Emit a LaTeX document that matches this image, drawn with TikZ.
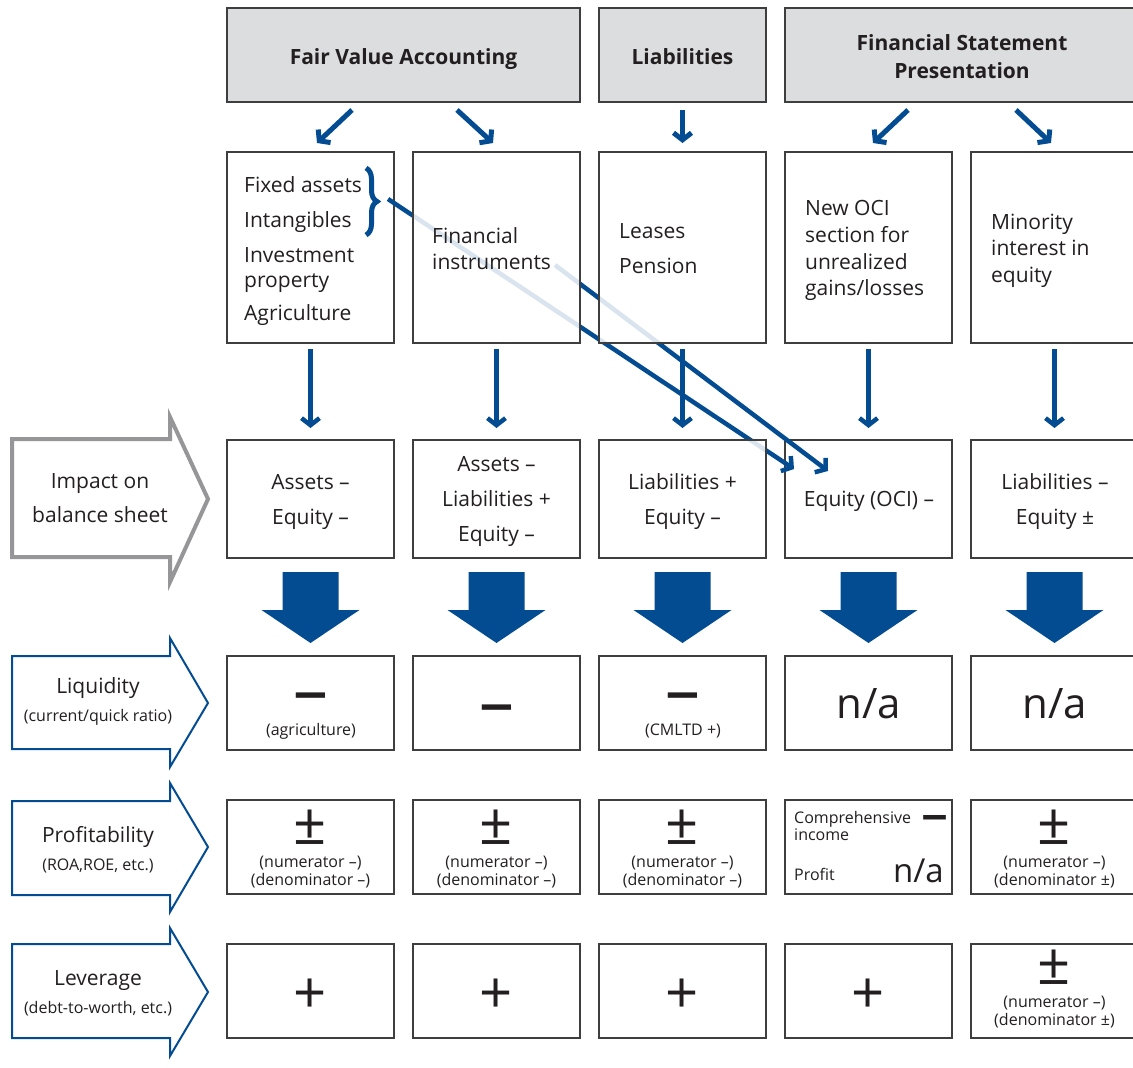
\documentclass[tikz,border=0pt]{standalone}
\usepackage{fontspec}
\usepackage{graphicx}
\setmainfont{Open Sans}
\usetikzlibrary{arrows.meta,decorations.pathreplacing}
\definecolor{fvblue}{RGB}{4,76,146}
\definecolor{hdrgray}{RGB}{220,221,223}
\definecolor{bordergray}{RGB}{62,62,62}
\definecolor{arrgray}{RGB}{150,150,152}
\definecolor{txt}{RGB}{35,31,32}
\newcommand\fsz[1]{\fontsize{#1}{#1}\selectfont}
\newcommand\wdash[1]{\scalebox{#1}[1]{–}}
\begin{document}
\begin{tikzpicture}[x=1pt,y=-1pt,
  box/.style={draw=bordergray, line width=1.3pt, fill=white, inner sep=0pt, outer sep=0pt, minimum width=167pt},
  fadebox/.style={draw=bordergray, line width=1.3pt, fill=white, fill opacity=0.85, inner sep=0pt, outer sep=0pt, minimum width=167pt},
  hdr/.style={box, fill=hdrgray},
  lbl/.style={inner sep=0pt, text=txt, font=\fsz{21}},
  sml/.style={inner sep=0pt, text=txt, font=\fsz{16}},
  hdrlbl/.style={inner sep=0pt, text=txt, font=\fsz{21}\bfseries},
  sym/.style={inner sep=0pt, text=txt, font=\fsz{58}},
  dsh/.style={inner sep=0pt, text=txt, font=\fsz{48}\bfseries, anchor=base},
  na/.style={inner sep=0pt, text=txt, font=\fsz{42}},
  arr/.style={draw=fvblue, line width=5pt, -{Straight Barb[length=7pt,width=18pt]}},
  diag/.style={draw=fvblue, line width=4.5pt, -{Straight Barb[length=7pt,width=18pt]}},
  bigarr/.style={fill=fvblue},
  sidearr/.style={draw=fvblue, line width=2pt, fill=white},
  sidearrgray/.style={draw=arrgray, line width=4pt, fill=white}
]
\path[use as bounding box] (0,0) rectangle (1133,1068);
\clip (0,0) rectangle (1133,1068);

% header boxes
\node[hdr, minimum width=353pt, minimum height=94pt] (hFVA) at (403.5,55) {};
\node[hdr, minimum height=94pt] (hLiab) at (682.5,55) {};
\node[hdr, minimum width=355pt, minimum height=94pt] (hFSP) at (962.5,55) {};
\node[hdrlbl, anchor=base] (tFVA) at (403.5,64) {Fair Value Accounting};
\node[hdrlbl, anchor=base] (tLiab) at (682.5,64) {Liabilities};
\node[hdrlbl, anchor=base] (tFSP1) at (962,50) {Financial Statement};
\node[hdrlbl, anchor=base] (tFSP2) at (962,78) {Presentation};

% row 2 boxes (not faded)
\node[box, minimum height=191pt] (b21) at (310.5,247.5) {};
\node[box, minimum height=191pt] (b24) at (868.5,247.5) {};
\node[box, minimum height=191pt] (b25) at (1054.5,247.5) {};
% row 3 boxes (not faded)
\node[box, minimum height=118pt] (b31) at (310.5,499) {};
\node[box, minimum height=118pt] (b34) at (868.5,499) {};
\node[box, minimum height=118pt] (b35) at (1054.5,499) {};

% brace
\draw[fvblue, line width=5pt, decorate, decoration={brace, amplitude=11pt}] (366,168) coordinate (brs) -- (366,235) coordinate (bre);
\coordinate (d1s) at (388,199);
\coordinate (d1e) at (794,469);
\coordinate (d2s) at (555,265);
\coordinate (d2e) at (828,471);
\draw[diag] (d1s) -- (d1e);
\draw[diag] (d2s) -- (d2e);

% faded boxes over the diagonal lines
\node[fadebox, minimum height=191pt] (b22) at (496.5,247.5) {};
\node[fadebox, minimum height=191pt] (b23) at (682.5,247.5) {};
\node[box, minimum height=118pt] (b32) at (496.5,499) {};
\node[fadebox, minimum height=118pt] (b33) at (682.5,499) {};

% header arrows
\coordinate (a1s) at (352,110); \coordinate (a1e) at (317,143);
\coordinate (a2s) at (457,110); \coordinate (a2e) at (493,143);
\coordinate (a3s) at (682.5,110); \coordinate (a3e) at (682.5,143);
\coordinate (a4s) at (908,110); \coordinate (a4e) at (873,143);
\coordinate (a5s) at (1016,110); \coordinate (a5e) at (1051,143);
\draw[arr] (a1s) -- (a1e);
\draw[arr] (a2s) -- (a2e);
\draw[arr] (a3s) -- (a3e);
\draw[arr] (a4s) -- (a4e);
\draw[arr] (a5s) -- (a5e);

% row2 -> row3 arrows
\foreach \n/\cx in {1/310.5,2/496.5,3/682.5,4/868.5,5/1054.5}{
  \coordinate (v\n s) at (\cx,349);
  \coordinate (v\n e) at (\cx,428);
  \draw[arr, line width=4.5pt] (v\n s) -- (v\n e);
}

% row 2 texts
\node[lbl, anchor=base west] (t21a) at (244,192) {Fixed assets};
\node[lbl, anchor=base west] (t21b) at (244,227) {Intangibles};
\node[lbl, anchor=base west] (t21c) at (244,262) {Investment};
\node[lbl, anchor=base west] (t21d) at (244,287) {property};
\node[lbl, anchor=base west] (t21e) at (244,320) {Agriculture};
\node[lbl, anchor=base west] (t22a) at (432,243) {Financial};
\node[lbl, anchor=base west] (t22b) at (432,269) {instruments};
\node[lbl, anchor=base west] (t23a) at (619,238) {Leases};
\node[lbl, anchor=base west] (t23b) at (619,273) {Pension};
\node[lbl, anchor=base west] (t24a) at (805,215) {New OCI};
\node[lbl, anchor=base west] (t24b) at (805,242) {section for};
\node[lbl, anchor=base west] (t24c) at (805,269) {unrealized};
\node[lbl, anchor=base west] (t24d) at (805,295) {gains/losses};
\node[lbl, anchor=base west] (t25a) at (991,229) {Minority};
\node[lbl, anchor=base west] (t25b) at (991,255) {interest in};
\node[lbl, anchor=base west] (t25c) at (991,282) {equity};

% row 3 texts
\node[lbl, anchor=base] (t31a) at (310.5,489) {Assets –};
\node[lbl, anchor=base] (t31b) at (310.5,524) {Equity –};
\node[lbl, anchor=base] (t32a) at (496.5,471) {Assets –};
\node[lbl, anchor=base] (t32b) at (496.5,506) {Liabilities +};
\node[lbl, anchor=base] (t32c) at (496.5,541) {Equity –};
\node[lbl, anchor=base] (t33a) at (682.5,489) {Liabilities +};
\node[lbl, anchor=base] (t33b) at (682.5,524) {Equity –};
\node[lbl, anchor=base] (t34a) at (869,506) {Equity (OCI) –};
\node[lbl, anchor=base] (t35a) at (1055,489) {Liabilities –};
\node[lbl, anchor=base] (t35b) at (1055,524) {Equity ±};

% big block arrows
\foreach \cx in {310.5,496.5,682.5,868.5,1054.5}{
  \fill[bigarr] (\cx-28,572) -- (\cx+28,572) -- (\cx+28,610) -- (\cx+49,610) -- (\cx,643) -- (\cx-49,610) -- (\cx-28,610) -- cycle;
}

% rows 4-6 boxes
\foreach \n/\cx in {1/310.5,2/496.5,3/682.5,4/868.5,5/1054.5}{
  \node[box, minimum height=94pt] (b4\n) at (\cx,703) {};
  \node[box, minimum height=94pt] (b5\n) at (\cx,847) {};
  \node[box, minimum height=94pt] (b6\n) at (\cx,991) {};
}

% side arrows
\draw[sidearrgray] (12,439) -- (170,439) -- (170,417) -- (208,499) -- (170,582) -- (170,557) -- (12,557) -- cycle;
\draw[sidearr] (12,656) -- (170,656) -- (170,638) -- (208,703) -- (170,767) -- (170,749) -- (12,749) -- cycle;
\draw[sidearr] (12,801) -- (170,801) -- (170,783) -- (208,847) -- (170,912) -- (170,895) -- (12,895) -- cycle;
\draw[sidearr] (12,944) -- (170,944) -- (170,928) -- (208,992) -- (170,1056) -- (170,1038) -- (12,1038) -- cycle;
\node[lbl, anchor=base] (sI1) at (100,488) {Impact on};
\node[lbl, anchor=base] (sI2) at (100,522) {balance sheet};
\node[lbl, anchor=base] (sL1) at (98,693) {Liquidity};
\node[sml, anchor=base] (sL2) at (98,721) {(current/quick ratio)};
\node[lbl, anchor=base] (sP1) at (98,842) {Profitability};
\node[sml, anchor=base] (sP2) at (98,870) {(ROA,ROE, etc.)};
\node[lbl, anchor=base] (sV1) at (98,985) {Leverage};
\node[sml, anchor=base] (sV2) at (98,1013) {(debt-to-worth, etc.)};

% row 4 texts
\node[dsh] (t41a) at (311,708) {\wdash{1.45}};
\node[sml, anchor=base] (t41b) at (311,735) {(agriculture)};
\node[dsh] (t42a) at (497,720) {\wdash{1.45}};
\node[dsh] (t43a) at (683,708) {\wdash{1.45}};
\node[sml, anchor=base] (t43b) at (683,735) {(CMLTD +)};
\node[na, anchor=base] (t44a) at (869,718) {n/a};
\node[na, anchor=base] (t45a) at (1055,718) {n/a};

% row 5 texts
\foreach \n/\cx/\d in {1/310.5/–,2/496.5/–,3/682.5/–,5/1054.5/±}{
  \node[sym] (t5\n a) at (\cx,827) {±};
  \node[sml, anchor=base] (t5\n b) at (\cx,867) {(numerator –)};
  \node[sml, anchor=base] (t5\n c) at (\cx,885) {(denominator \d)};
}
\node[sml, anchor=base west] (t54a) at (794,823) {Comprehensive};
\node[sml, anchor=base west] (t54b) at (794,840) {income};
\node[dsh, font=\fsz{40}\bfseries] (t54c) at (935,828) {\wdash{1.35}};
\node[sml, anchor=base west] (t54d) at (794,880) {Profit};
\node[na, font=\fsz{33}, anchor=base east] (t54e) at (944,882) {n/a};

% row 6 texts
\foreach \n/\cx in {1/310.5,2/496.5,3/682.5,4/868.5}{
  \node[sym] (t6\n a) at (\cx,996) {+};
}
\node[sym] (t65a) at (1054.5,967) {±};
\node[sml, anchor=base] (t65b) at (1054.5,1007) {(numerator –)};
\node[sml, anchor=base] (t65c) at (1054.5,1025) {(denominator ±)};
\end{tikzpicture}
\end{document}
